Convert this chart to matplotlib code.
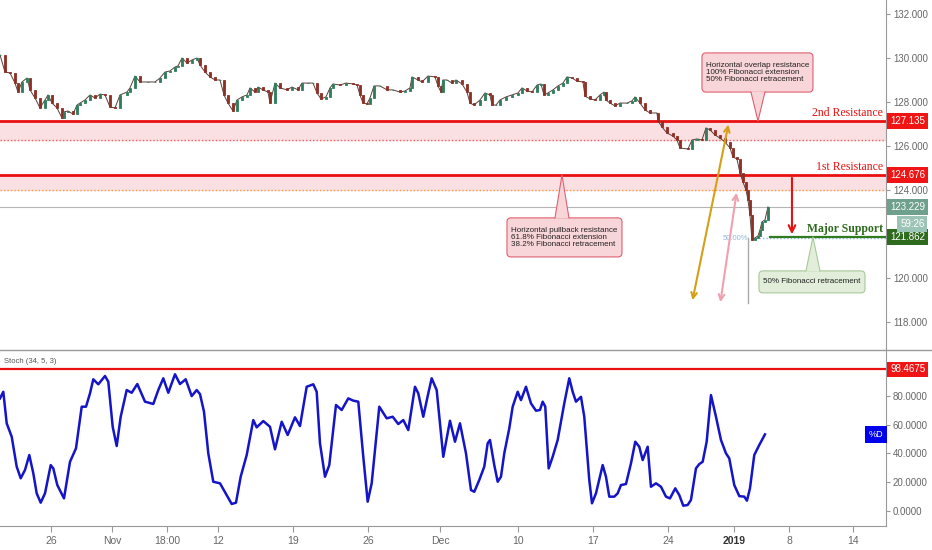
import numpy as np
import matplotlib
matplotlib.use("Agg")
import matplotlib.pyplot as plt
from matplotlib.patches import FancyBboxPatch, Polygon
from matplotlib.lines import Line2D

# --- price (4H closes) ---
t_price = [0, 5, 10, 15, 18, 22, 27, 30, 35, 40, 45, 48, 52, 57, 62, 64, 68, 73, 77, 80,
           85, 90, 95, 100, 105, 110, 115, 120, 127, 130, 135, 140, 148, 155, 160, 165, 170, 175, 178, 182,
           187, 192, 197, 200, 205, 210, 215, 220, 224, 228, 233, 237, 242, 247, 250, 255, 258, 263, 268, 270,
           275, 280, 287, 292, 298, 302, 308, 313, 317, 321, 326, 330, 333, 340, 346, 353, 357, 360, 363, 367,
           370, 374, 380, 387, 393, 400, 405, 410, 412, 418, 422, 428, 435, 438, 441,
           443, 447, 452, 456, 462, 467, 470, 474, 480, 485, 490, 492, 496, 500, 506, 512, 518, 522, 527, 532,
           537, 541, 544, 548, 553, 558, 563, 567, 572, 577, 583, 585, 590, 595, 600, 604, 606, 610, 615, 620,
           627, 632, 635, 640, 645, 650, 657, 658, 662, 667, 673, 677, 680, 688, 692, 697, 702, 706, 710, 715,
           720, 725, 730, 733, 737, 740, 743, 746, 748, 750, 752, 755, 758, 760, 762, 765, 768]
close = [130.14, 129.36, 129.32, 128.86, 128.45, 128.91, 129.09, 128.55, 128.18, 127.73, 128.09, 128.32, 127.95, 127.73, 127.27, 127.55, 127.59, 127.45, 127.86, 127.95,
         128.09, 128.32, 128.18, 128.36, 128.32, 127.77, 127.73, 128.32, 128.45, 128.64, 129.18, 128.91, 128.91, 128.91, 129.09, 129.36, 129.41, 129.59, 129.64, 130.00,
         129.77, 129.91, 130.00, 129.68, 129.36, 129.14, 129.00, 129.00, 128.32, 127.95, 127.59, 128.09, 128.23, 128.32, 128.64, 128.45, 128.68, 128.55, 128.45, 127.95,
         128.86, 128.64, 128.55, 128.68, 128.55, 128.86, 128.86, 128.86, 128.41, 128.14, 128.23, 128.64, 128.82, 128.77, 128.86, 128.82, 128.77, 128.32, 127.95, 127.91,
         128.18, 128.73, 128.73, 128.55, 128.55, 128.45, 128.50, 128.64, 129.14, 129.00, 128.91, 129.18, 129.14, 128.73, 128.45,
         129.00, 129.00, 128.86, 129.00, 128.82, 128.45, 127.95, 127.86, 128.09, 128.41, 128.32, 127.86, 127.86, 128.09, 128.23, 128.32, 128.41, 128.64, 128.50, 128.45,
         128.77, 128.82, 128.32, 128.41, 128.55, 128.73, 128.86, 129.14, 129.09, 128.95, 128.91, 128.27, 128.14, 128.09, 128.32, 128.45, 128.09, 127.95, 127.82, 127.95,
         127.95, 128.05, 128.23, 127.95, 127.64, 127.50, 127.50, 127.14, 126.86, 126.59, 126.45, 126.27, 125.91, 125.86, 126.27, 126.32, 126.27, 126.82, 126.73, 126.50,
         126.36, 126.18, 125.91, 125.50, 125.41, 124.77, 124.36, 124.00, 123.55, 122.86, 121.73, 121.82, 121.91, 122.18, 122.55, 122.64, 123.23]

# --- stochastic %D ---
t_stoch = [0, 3.3, 6.7, 11.7, 16.7, 20.7, 25, 29.3, 33.3, 36.7, 40.7, 45, 50.7, 53.3, 57.3, 64, 70, 76, 81.7, 86,
           90, 93.3, 98.3, 105, 108.3, 112.7, 116.7, 120.7, 126.7, 131.7, 137.3, 145, 153.3, 158.3, 163.3, 168.3, 175, 180, 185.7, 191.7,
           196.7, 200, 204, 208.3, 213.3, 220, 226.7, 231.7, 236, 240.7, 246.7, 253.3, 256.7, 263.3, 270, 275, 281.7, 287.7, 295, 300,
           306.7, 313.3, 316.7, 320, 325, 329.3, 336, 341.7, 348.3, 353.3, 358.3, 363.3, 367.7, 371.7, 379.3, 386.7, 392.7, 398.3, 403.3, 408.3,
           415, 418.3, 423.3, 428.3, 431.7, 436.7, 443.3, 450, 455, 460, 466, 471, 474.3, 479.3, 484.3, 487.7, 490, 494.3, 497.7, 501,
           504.3, 509.3, 512.7, 517.7, 521, 526, 531, 536, 540, 542.7, 545.3, 548.7, 552.7, 557.7, 564.3, 569.3, 572.7, 576, 581, 584.3,
           589.3, 592, 596, 602.7, 606, 609.3, 614.3, 617.7, 621, 626, 631, 635.3, 639.3, 642.7, 647.7, 651, 656, 661, 666, 670,
           675.3, 679.3, 683.3, 687.7, 691, 696, 699.3, 702.7, 706.7, 711, 716, 721, 726, 729.3, 734.3, 739.3, 744.3, 747, 750, 754.3,
           759.3, 765]
stoch_d = [78.3, 82.9, 60.9, 51.6, 30.7, 22.6, 28.4, 38.8, 26.1, 12.1, 5.6, 12.1, 31.8, 29.5, 17.9, 8.6, 34.1, 43.5, 72.5, 72.5,
           81.8, 91.6, 88.1, 93.9, 89.9, 58.5, 45.1, 65.5, 84.1, 82.2, 88.3, 76.0, 74.4, 84.1, 92.3, 82.2, 95.1, 88.3, 91.6, 79.9,
           84.1, 81.3, 69.0, 40.0, 20.2, 19.1, 10.9, 4.7, 5.6, 23.7, 38.8, 63.2, 58.1, 62.5, 58.5, 42.8, 62.0, 52.8, 65.1, 59.0,
           86.4, 88.1, 82.9, 47.0, 23.7, 31.8, 73.7, 70.2, 78.3, 76.7, 76.0, 37.6, 6.3, 19.1, 72.5, 64.4, 65.5, 60.4, 63.2, 56.2,
           86.4, 81.8, 65.5, 81.8, 92.3, 84.1, 37.6, 62.7, 48.1, 60.9, 40.0, 14.4, 13.2, 21.4, 30.7, 47.0, 49.3, 31.8, 20.2, 23.7,
           40.0, 57.4, 72.5, 82.9, 77.1, 86.4, 74.8, 69.7, 70.2, 76.0, 72.5, 29.5, 37.6, 49.3, 74.8, 92.3, 82.9, 76.0, 79.4, 65.5,
           21.4, 5.2, 12.1, 31.8, 23.7, 9.8, 9.8, 12.1, 17.9, 18.6, 33.0, 48.1, 44.6, 35.3, 44.6, 16.7, 19.1, 16.7, 9.8, 8.6,
           15.6, 10.9, 3.5, 4.0, 7.5, 29.5, 32.5, 34.1, 48.1, 80.6, 65.5, 49.3, 40.0, 36.5, 17.9, 10.2, 9.8, 7.0, 15.6, 38.8,
           45.8, 53.2]

# --- levels ---
res2, res2_low = 127.135, 126.27
res1, res1_low = 124.676, 124.00
support = 121.862
last_price = 123.229
fib50 = 121.80
stoch_line = 98.4675

# --- axis ticks ---
price_ticks = [118, 120, 124, 126, 128, 130, 132]
stoch_ticks = [0, 20, 40, 60, 80]
date_pos = [51, 112, 167, 218, 293, 368, 440, 518, 593, 668, 734, 789, 853]
date_labels = ["26", "Nov", "18:00", "12", "19", "26", "Dec", "10", "17", "24", "2019", "8", "14"]

plt.rcParams["font.family"] = ["Liberation Sans", "DejaVu Sans"]
RED = "#e81010"
GREY = "#666666"

fig = plt.figure(figsize=(9.32, 5.5), dpi=100)
ax = fig.add_axes([0, 0.3655, 0.9506, 0.6345])
ax2 = fig.add_axes([0, 0.0436, 0.9506, 0.3200])

XMAX = 886
for a in (ax, ax2):
    a.set_xlim(0, XMAX)
    for s in ("left", "top", "bottom"):
        a.spines[s].set_visible(False)
    a.spines["right"].set_color("#999999")
    a.yaxis.tick_right()
    a.tick_params(axis="y", colors="#999999", labelcolor=GREY, labelsize=7, length=3, pad=2)
ax2.spines["bottom"].set_visible(True)
ax2.spines["bottom"].set_color("#999999")
fig.add_artist(Line2D([0, 1], [0.3636, 0.3636], color="#999999", lw=1))

# ---------- price panel ----------
ax.set_ylim(116.77, 132.636)
ax.set_yticks(price_ticks)
ax.set_yticklabels([f"{v:.3f}" for v in price_ticks])
ax.set_xticks([])

ax.axhspan(res2_low, res2, color="#fbe0e3", zorder=0)
ax.axhspan(res1_low, res1, color="#fbe0e3", zorder=0)
ax.axhline(res2, color=RED, lw=2, zorder=3)
ax.axhline(res1, color=RED, lw=2, zorder=3)
ax.axhline(res2_low, color="#f06060", lw=1, ls=(0, (1, 1.5)), zorder=1)
ax.axhline(res1_low, color="#f0a040", lw=1, ls=(0, (1, 1.5)), zorder=1)
ax.axhline(last_price, color="#b5b5b5", lw=0.8, zorder=1)

close = np.array(close)
opens = np.r_[close[0], close[:-1]]
up = close >= opens
cols = np.where(up, "#2f7d5c", "#8e2f25")
ax.plot(t_price, close, color="#5a4038", lw=0.7, zorder=3.5)
ax.bar(np.array(t_price), np.abs(close - opens), bottom=np.minimum(close, opens), width=2.5,
       color=cols, edgecolor=cols, linewidth=0.6, zorder=4)

# fib tools and arrows
ax.annotate("", xy=(729, 127.10), xytext=(692, 118.86),
            arrowprops=dict(arrowstyle="<->", color="#d4a017", lw=1.5, mutation_scale=10), zorder=5)
ax.annotate("", xy=(737, 124.0), xytext=(720, 118.77),
            arrowprops=dict(arrowstyle="<->", color="#f2a0b0", lw=1.5, mutation_scale=10), zorder=5)
ax.annotate("", xy=(792, support), xytext=(792, res1),
            arrowprops=dict(arrowstyle="->", color=RED, lw=1.5, mutation_scale=12), zorder=5)
ax.plot([748, 748], [fib50, 118.85], color="#aaaaaa", lw=1, zorder=2)
ax.plot([752, XMAX], [fib50, fib50], color="#8fb8e0", lw=1, ls=(0, (1, 1.5)), zorder=2)
ax.text(748, fib50, "50.00%", color="#8fb8e0", fontsize=5.5, ha="right", va="center", zorder=2)
ax.plot([770, XMAX], [support, support], color="#2f7d1f", lw=1.6, zorder=5)

# level names
ax.text(883, res2 + 0.08, "2nd Resistance", family="Liberation Serif", fontsize=8.5,
        color=RED, ha="right", va="bottom", zorder=6)
ax.text(883, res1 + 0.08, "1st Resistance", family="Liberation Serif", fontsize=8.5,
        color=RED, ha="right", va="bottom", zorder=6)
ax.text(883, support + 0.08, "Major Support", family="Liberation Serif", fontsize=8.5,
        color="#2f6b1e", weight="bold", ha="right", va="bottom", zorder=6)


def callout(x0, x1, y_top, y_bot, lines, fc, ec, tip_x, tip_y, from_top):
    box = FancyBboxPatch((x0, y_bot), x1 - x0, y_top - y_bot,
                         boxstyle="round,pad=0,rounding_size=4", mutation_aspect=1 / 22,
                         fc=fc, ec=ec, lw=0.8, zorder=7)
    ax.add_patch(box)
    base_y = y_top if from_top else y_bot
    inset = -0.03 if from_top else 0.03
    ax.add_patch(Polygon([(tip_x - 7, base_y + inset), (tip_x, tip_y), (tip_x + 7, base_y + inset)],
                         closed=True, fc=fc, ec="none", zorder=8))
    ax.plot([tip_x - 7, tip_x, tip_x + 7], [base_y, tip_y, base_y], color=ec, lw=0.8, zorder=8)
    ax.text(x0 + 4, (y_top + y_bot) / 2, lines, fontsize=5.8, color="#222222",
            ha="left", va="center", linespacing=1.05, zorder=9)


callout(702, 813, 130.23, 128.45,
        "Horizontal overlap resistance\n100% Fibonacci extension\n50% Fibonacci retracement",
        "#f8d5d8", "#e06070", 758, res2, from_top=False)
callout(507, 622, 122.73, 120.955,
        "Horizontal pullback resistance\n61.8% Fibonacci extension\n38.2% Fibonacci retracement",
        "#f8d5d8", "#e06070", 562, res1, from_top=True)
callout(759, 865, 120.32, 119.32, "50% Fibonacci retracement",
        "#e2eed9", "#a8c89a", 813, support, from_top=True)

# price tags on the right axis
ytr = ax.get_yaxis_transform()
for val, txt, col in [(res2, "127.135", "#f01414"), (res1, "124.676", "#f01414"),
                      (last_price, "123.229", "#6fa08e"), (support, "121.862", "#2f6b1e")]:
    ax.text(1.005, val, txt, transform=ytr, fontsize=7, color="white", ha="left", va="center",
            bbox=dict(boxstyle="square,pad=0.3", fc=col, ec="none"), clip_on=False, zorder=10)
ax.text(1.016, 122.45, "59:26", transform=ytr, fontsize=7, color="white", ha="left", va="center",
        bbox=dict(boxstyle="square,pad=0.3", fc="#9cc4b6", ec="none"), clip_on=False, zorder=10)

# ---------- stochastic panel ----------
ax2.set_ylim(-10.66, 112.0)
ax2.set_yticks(stoch_ticks)
ax2.set_yticklabels([f"{v:.4f}" for v in stoch_ticks])
ax2.set_xticks(date_pos)
ax2.set_xticklabels(date_labels)
ax2.tick_params(axis="x", colors="#999999", labelcolor=GREY, labelsize=7.5, length=4)
for lab in ax2.get_xticklabels():
    if lab.get_text() == "2019":
        lab.set_fontweight("bold")
        lab.set_color("#333333")

ax2.axhline(stoch_line, color=RED, lw=1.6)
ax2.plot(t_stoch, stoch_d, color="#1414c8", lw=1.8)
ax2.text(4, 104, "Stoch (34, 5, 3)", fontsize=5.5, color="#555555", ha="left", va="center")
ax2.text(876, stoch_d[-1], "%D", fontsize=6.5, color="white", ha="center", va="center",
         bbox=dict(boxstyle="square,pad=0.4", fc="#0000ee", ec="none"), zorder=6)
ytr2 = ax2.get_yaxis_transform()
ax2.text(1.005, stoch_line, "98.4675", transform=ytr2, fontsize=7, color="white", ha="left",
         va="center", bbox=dict(boxstyle="square,pad=0.3", fc="#f01414", ec="none"), clip_on=False)

fig.savefig("out.png", dpi=100, facecolor="white")
